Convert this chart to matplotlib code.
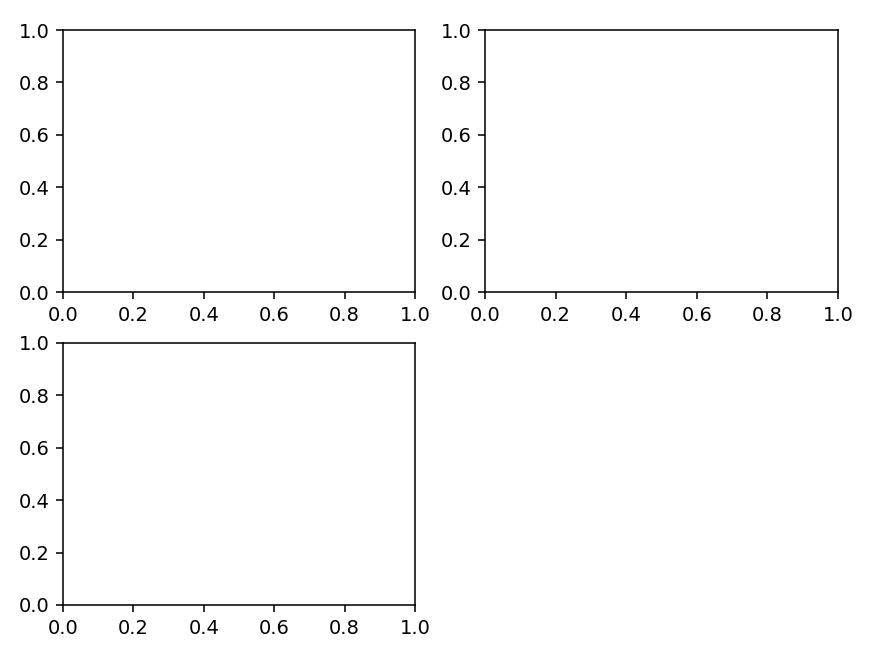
import matplotlib
matplotlib.use('Agg')
import matplotlib.pyplot as plt

# Empty panels: default limits 0..1, ticks every 0.2
ticks = [0.0, 0.2, 0.4, 0.6, 0.8, 1.0]

W, H = 896, 657
DPI = 140
fig = plt.figure(figsize=(W / DPI, H / DPI), dpi=DPI)

# panel boxes in pixels: (left, top, right, bottom)
boxes = [(63, 30, 415, 292), (485, 30, 838, 292), (63, 343, 415, 605)]
for l, t, r, b in boxes:
    ax = fig.add_axes([l / W, (H - b) / H, (r - l) / W, (b - t) / H])
    ax.set_xlim(0, 1)
    ax.set_ylim(0, 1)
    ax.set_xticks(ticks)
    ax.set_yticks(ticks)

fig.savefig('out.png', dpi=DPI)
